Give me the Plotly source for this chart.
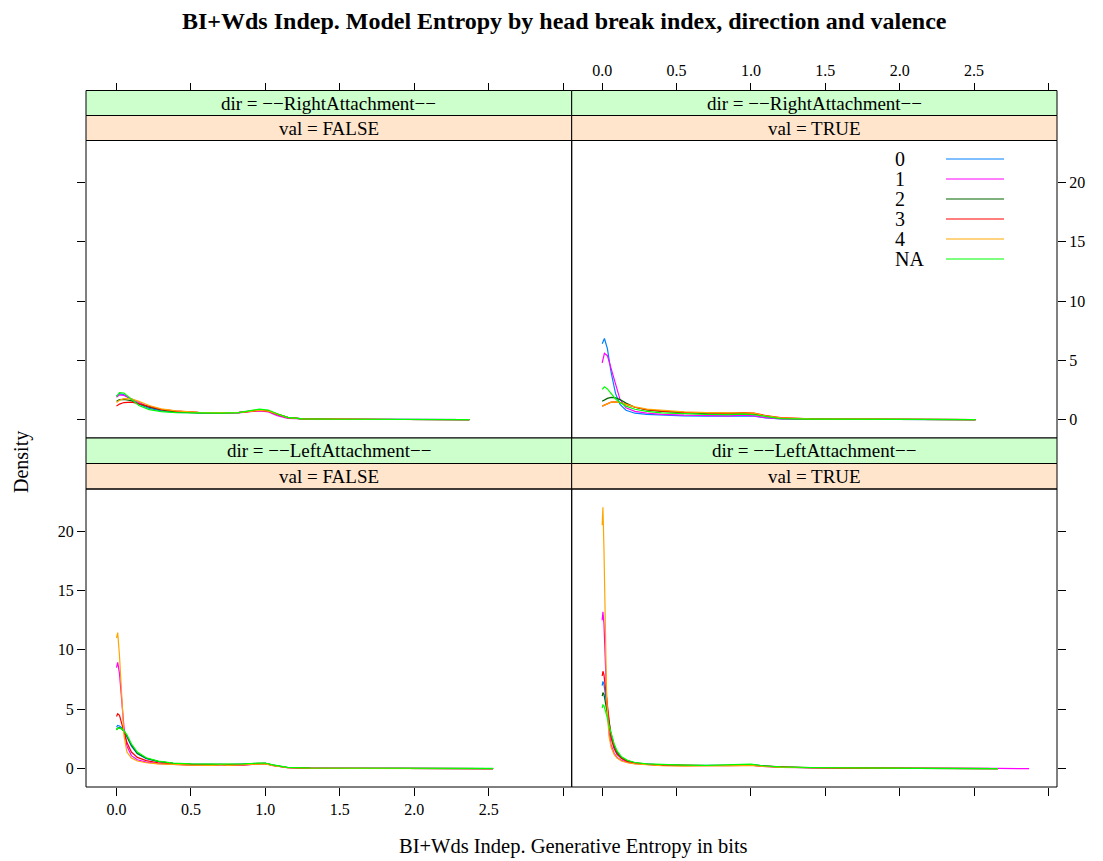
import plotly.graph_objects as go

W, H = 1103, 861

GROUPS = ["0", "1", "2", "3", "4", "NA"]
COLORS = ["#0080ff", "#ff00ff", "#006400", "#ff0000", "#ffa500", "#00ff00"]

DIR_LABELS = ["dir = \u2212\u2212RightAttachment\u2212\u2212", "dir = \u2212\u2212LeftAttachment\u2212\u2212"]
VAL_LABELS = ["val = FALSE", "val = TRUE"]

X_TICKS = [0.0, 0.5, 1.0, 1.5, 2.0, 2.5, 3.0]
X_TICKTEXT = ["0.0", "0.5", "1.0", "1.5", "2.0", "2.5", ""]
Y_TICKS = [0, 5, 10, 15, 20]
Y_TICKTEXT = ["0", "5", "10", "15", "20"]

# ---- top-left: dir = RightAttachment, val = FALSE ----
TL_X = [0.0, 0.02, 0.05, 0.1, 0.15, 0.22, 0.3, 0.4, 0.55, 0.7, 0.82, 0.9, 0.96, 1.02, 1.08, 1.15, 1.25, 1.5, 1.9, 2.37]
TL_G0 = [2.0, 2.2, 2.1, 1.7, 1.3, 0.95, 0.75, 0.62, 0.56, 0.55, 0.6, 0.72, 0.82, 0.75, 0.45, 0.2, 0.08, 0.04, 0.02, 0.01]
TL_G1 = [1.9, 2.1, 2.05, 1.75, 1.4, 1.05, 0.85, 0.72, 0.6, 0.56, 0.58, 0.68, 0.75, 0.65, 0.35, 0.12, 0.06, 0.04, 0.02, 0.01]
TL_G2 = [1.55, 1.7, 1.72, 1.6, 1.35, 1.05, 0.82, 0.66, 0.58, 0.56, 0.6, 0.72, 0.82, 0.75, 0.45, 0.18, 0.07, 0.04, 0.02, 0.01]
TL_G3 = [1.15, 1.32, 1.45, 1.48, 1.35, 1.1, 0.88, 0.72, 0.62, 0.6, 0.62, 0.7, 0.78, 0.72, 0.48, 0.2, 0.08, 0.04, 0.02, 0.01]
TL_G4 = [1.45, 1.65, 1.78, 1.75, 1.55, 1.2, 0.92, 0.74, 0.62, 0.58, 0.6, 0.7, 0.8, 0.72, 0.45, 0.18, 0.07, 0.04, 0.02, 0.01]
TL_GNA = [1.95, 2.28, 2.25, 1.75, 1.2, 0.85, 0.68, 0.6, 0.56, 0.55, 0.6, 0.75, 0.9, 0.82, 0.5, 0.2, 0.08, 0.04, 0.02, 0.01]

# ---- top-right: dir = RightAttachment, val = TRUE ----
TR_X = [0.0, 0.015, 0.035, 0.06, 0.09, 0.12, 0.16, 0.22, 0.3, 0.4, 0.55, 0.7, 0.85, 0.95, 1.02, 1.1, 1.2, 1.4, 1.8, 2.2, 2.51]
TR_G0 = [6.4, 6.85, 6.0, 4.0, 2.2, 1.3, 0.8, 0.55, 0.45, 0.38, 0.33, 0.3, 0.3, 0.35, 0.3, 0.15, 0.07, 0.04, 0.02, 0.01, 0.01]
TR_G1 = [4.8, 5.6, 5.4, 4.3, 2.8, 1.7, 1.0, 0.7, 0.55, 0.45, 0.38, 0.33, 0.33, 0.38, 0.32, 0.17, 0.08, 0.04, 0.02, 0.01, 0.01]
TR_G2 = [1.55, 1.68, 1.8, 1.88, 1.85, 1.7, 1.4, 1.05, 0.82, 0.7, 0.58, 0.52, 0.5, 0.55, 0.48, 0.3, 0.12, 0.06, 0.03, 0.01, 0.01]
TR_G3 = [1.15, 1.25, 1.38, 1.48, 1.5, 1.45, 1.3, 1.05, 0.85, 0.72, 0.62, 0.56, 0.55, 0.6, 0.55, 0.35, 0.18, 0.08, 0.04, 0.02, 0.01]
TR_G4 = [1.15, 1.25, 1.38, 1.48, 1.5, 1.45, 1.3, 1.08, 0.9, 0.78, 0.66, 0.6, 0.58, 0.62, 0.55, 0.32, 0.15, 0.07, 0.03, 0.01, 0.01]
TR_GNA = [2.55, 2.78, 2.6, 2.2, 1.75, 1.45, 1.15, 0.88, 0.7, 0.58, 0.5, 0.45, 0.43, 0.48, 0.42, 0.25, 0.1, 0.05, 0.02, 0.01, 0.01]

# ---- bottom-left: dir = LeftAttachment, val = FALSE ----
BL_X = [0.0, 0.008, 0.02, 0.035, 0.05, 0.07, 0.1, 0.14, 0.2, 0.28, 0.38, 0.5, 0.65, 0.7, 0.75, 0.85, 0.95, 1.0, 1.05, 1.15, 1.3, 1.6, 2.0, 2.53]
BL_G0 = [3.5, 3.64, 3.6, 3.45, 3.2, 2.7, 1.9, 1.25, 0.85, 0.6, 0.45, 0.38, 0.35, 0.35, 0.35, 0.38, 0.45, 0.45, 0.3, 0.1, 0.05, 0.03, 0.02, 0.01]
BL_G1 = [8.5, 8.95, 8.0, 5.8, 3.5, 1.9, 1.1, 0.75, 0.55, 0.42, 0.35, 0.3, 0.28, 0.36, 0.28, 0.3, 0.4, 0.45, 0.28, 0.08, 0.04, 0.03, 0.02, 0.01]
BL_G2 = [3.3, 3.42, 3.45, 3.35, 3.15, 2.75, 2.0, 1.3, 0.88, 0.62, 0.46, 0.38, 0.36, 0.36, 0.36, 0.38, 0.45, 0.46, 0.3, 0.1, 0.05, 0.03, 0.02, 0.01]
BL_G3 = [4.4, 4.62, 4.5, 3.9, 3.1, 2.2, 1.4, 0.95, 0.68, 0.5, 0.38, 0.32, 0.3, 0.3, 0.3, 0.32, 0.4, 0.42, 0.28, 0.08, 0.04, 0.03, 0.02, 0.01]
BL_G4 = [11.0, 11.45, 9.5, 5.5, 2.8, 1.4, 0.9, 0.65, 0.5, 0.4, 0.33, 0.3, 0.28, 0.35, 0.28, 0.3, 0.38, 0.4, 0.25, 0.08, 0.04, 0.03, 0.02, 0.01]
BL_GNA = [3.25, 3.4, 3.42, 3.35, 3.2, 2.85, 2.1, 1.4, 0.92, 0.64, 0.47, 0.4, 0.38, 0.38, 0.37, 0.4, 0.47, 0.48, 0.32, 0.12, 0.06, 0.04, 0.03, 0.02]

# ---- bottom-right: dir = LeftAttachment, val = TRUE ----
BR_X = [0.0, 0.005, 0.012, 0.02, 0.03, 0.045, 0.06, 0.08, 0.1, 0.13, 0.17, 0.22, 0.3, 0.4, 0.55, 0.7, 0.85, 0.95, 1.0, 1.08, 1.2, 1.4, 1.7, 2.1, 2.66, 2.87]
BR_G0 = [7.0, 7.35, 7.1, 6.4, 5.2, 3.8, 2.7, 1.8, 1.25, 0.88, 0.62, 0.47, 0.37, 0.3, 0.27, 0.26, 0.26, 0.3, 0.32, 0.22, 0.13, 0.08, 0.05, 0.03, 0.01, None]
BR_G1 = [12.5, 13.2, 12.2, 9.5, 6.0, 3.2, 2.0, 1.3, 0.95, 0.7, 0.52, 0.42, 0.34, 0.28, 0.25, 0.25, 0.25, 0.28, 0.3, 0.2, 0.12, 0.08, 0.05, 0.03, 0.02, 0.01]
BR_G2 = [6.1, 6.4, 6.25, 5.8, 5.0, 3.9, 2.9, 2.0, 1.4, 0.95, 0.66, 0.5, 0.38, 0.32, 0.28, 0.27, 0.28, 0.32, 0.35, 0.24, 0.14, 0.09, 0.05, 0.03, 0.01, None]
BR_G3 = [7.8, 8.2, 7.9, 7.0, 5.5, 3.8, 2.6, 1.7, 1.2, 0.85, 0.6, 0.46, 0.36, 0.3, 0.27, 0.25, 0.25, 0.28, 0.3, 0.22, 0.15, 0.08, 0.05, 0.03, 0.01, None]
BR_G4 = [20.5, 22.0, 18.5, 12.0, 6.0, 2.8, 1.8, 1.2, 0.9, 0.65, 0.5, 0.4, 0.32, 0.25, 0.22, 0.25, 0.22, 0.25, 0.28, 0.2, 0.12, 0.08, 0.05, 0.03, 0.01, None]
BR_GNA = [5.1, 5.38, 5.3, 5.0, 4.5, 3.7, 2.9, 2.1, 1.5, 1.0, 0.7, 0.52, 0.4, 0.34, 0.3, 0.28, 0.3, 0.35, 0.38, 0.25, 0.15, 0.1, 0.06, 0.03, 0.01, None]

X_RANGE = [-0.205, 3.058]
Y_RANGE = [-1.54, 23.54]

FONT = "Liberation Serif"

# ---------------- geometry (pixels) ----------------
LEFT, MID, RIGHT = 86.0, 571.7, 1057.0
ROWS = [
    dict(s1=90.5, s2=115.5, top=140.5, bot=438.0),   # top row
    dict(s1=438.0, s2=463.5, top=489.0, bot=787.0),  # bottom row
]


def fx(p):
    return p / W


def fy(p):
    return 1.0 - p / H


panels = [
    ("x5", "y", TL_X, [TL_G0, TL_G1, TL_G2, TL_G3, TL_G4, TL_GNA], 0, 0),
    ("x6", "y2", TR_X, [TR_G0, TR_G1, TR_G2, TR_G3, TR_G4, TR_GNA], 0, 1),
    ("x3", "y3", BL_X, [BL_G0, BL_G1, BL_G2, BL_G3, BL_G4, BL_GNA], 1, 0),
    ("x4", "y4", BR_X, [BR_G0, BR_G1, BR_G2, BR_G3, BR_G4, BR_GNA], 1, 1),
]

fig = go.Figure()
for xa, ya, xs, series, r, c in panels:
    for g, col, ys in zip(GROUPS, COLORS, series):
        fig.add_trace(go.Scatter(
            x=xs, y=ys, xaxis=xa, yaxis=ya, mode="lines",
            line=dict(color=col, width=1.2), name=g,
            showlegend=False, hoverinfo="skip", connectgaps=False,
        ))

tickfont = dict(family=FONT, size=16, color="black")
common_x = dict(range=X_RANGE, tickmode="array", tickvals=X_TICKS, ticktext=X_TICKTEXT,
                ticks="outside", ticklen=8, tickwidth=1, tickcolor="black",
                showgrid=False, zeroline=False, showline=False, tickfont=tickfont,
                fixedrange=True)
common_y = dict(range=Y_RANGE, tickmode="array", tickvals=Y_TICKS, ticktext=Y_TICKTEXT,
                ticks="outside", ticklen=8, tickwidth=1, tickcolor="black",
                showgrid=False, zeroline=False, showline=False, tickfont=tickfont,
                fixedrange=True)

dom_left = [fx(LEFT), fx(MID)]
dom_right = [fx(MID), fx(RIGHT)]
dom_top = [fy(ROWS[0]["bot"]), fy(ROWS[0]["top"])]
dom_bot = [fy(ROWS[1]["bot"]), fy(ROWS[1]["top"])]

fig.update_layout(
    xaxis5=dict(common_x, domain=dom_left, anchor="free", position=fy(ROWS[0]["s1"]), side="top",
                showticklabels=False),
    xaxis6=dict(common_x, domain=dom_right, anchor="free", position=fy(ROWS[0]["s1"]), side="top",
                showticklabels=True),
    xaxis3=dict(common_x, domain=dom_left, anchor="y3", side="bottom", showticklabels=True),
    xaxis4=dict(common_x, domain=dom_right, anchor="y4", side="bottom", showticklabels=False),
    yaxis=dict(common_y, domain=dom_top, anchor="x5", side="left", showticklabels=False),
    yaxis2=dict(common_y, domain=dom_top, anchor="x6", side="right", showticklabels=True),
    yaxis3=dict(common_y, domain=dom_bot, anchor="x3", side="left", showticklabels=True),
    yaxis4=dict(common_y, domain=dom_bot, anchor="x4", side="right", showticklabels=False),
)

shapes = []
annotations = []
for r, row in enumerate(ROWS):
    for c in range(2):
        x0 = LEFT if c == 0 else MID
        x1 = MID if c == 0 else RIGHT
        shapes.append(dict(type="rect", xref="paper", yref="paper",
                           x0=fx(x0), x1=fx(x1), y0=fy(row["s2"]), y1=fy(row["s1"]),
                           fillcolor="#ccffcc", line=dict(color="black", width=1), layer="above"))
        shapes.append(dict(type="rect", xref="paper", yref="paper",
                           x0=fx(x0), x1=fx(x1), y0=fy(row["top"]), y1=fy(row["s2"]),
                           fillcolor="#ffe5cc", line=dict(color="black", width=1), layer="above"))
        shapes.append(dict(type="rect", xref="paper", yref="paper",
                           x0=fx(x0), x1=fx(x1), y0=fy(row["bot"]), y1=fy(row["top"]),
                           fillcolor="rgba(0,0,0,0)", line=dict(color="black", width=1), layer="above"))
        xc = fx((x0 + x1) / 2)
        annotations.append(dict(xref="paper", yref="paper", x=xc, y=fy((row["s1"] + row["s2"]) / 2),
                                text=DIR_LABELS[r], showarrow=False, xanchor="center", yanchor="middle",
                                font=dict(family=FONT, size=19, color="black")))
        annotations.append(dict(xref="paper", yref="paper", x=xc, y=fy((row["s2"] + row["top"]) / 2),
                                text=VAL_LABELS[c], showarrow=False, xanchor="center", yanchor="middle",
                                font=dict(family=FONT, size=19, color="black")))

# key inside top-right panel
LEG_TEXT_X, LEG_LINE_X0, LEG_LINE_X1 = 893, 946, 1004
LEG_Y0, LEG_DY = 159, 20
for i, (g, col) in enumerate(zip(GROUPS, COLORS)):
    yy = LEG_Y0 + i * LEG_DY
    annotations.append(dict(xref="paper", yref="paper", x=fx(LEG_TEXT_X), y=fy(yy), text=g,
                            showarrow=False, xanchor="left", yanchor="middle",
                            font=dict(family=FONT, size=20, color="black")))
    shapes.append(dict(type="line", xref="paper", yref="paper",
                       x0=fx(LEG_LINE_X0), x1=fx(LEG_LINE_X1), y0=fy(yy), y1=fy(yy),
                       line=dict(color=col, width=1.2)))

annotations.append(dict(xref="paper", yref="paper", x=fx(564), y=fy(21),
                        text="<b>BI+Wds Indep. Model Entropy by head break index, direction and valence</b>",
                        showarrow=False, xanchor="center", yanchor="middle",
                        font=dict(family=FONT, size=24, color="black")))
annotations.append(dict(xref="paper", yref="paper", x=fx(573), y=fy(846),
                        text="BI+Wds Indep. Generative Entropy in bits",
                        showarrow=False, xanchor="center", yanchor="middle",
                        font=dict(family=FONT, size=20.5, color="black")))
annotations.append(dict(xref="paper", yref="paper", x=fx(21), y=fy(462),
                        text="Density", textangle=-90,
                        showarrow=False, xanchor="center", yanchor="middle",
                        font=dict(family=FONT, size=20, color="black")))

fig.update_layout(
    width=W, height=H,
    margin=dict(l=0, r=0, t=0, b=0),
    paper_bgcolor="white", plot_bgcolor="white",
    shapes=shapes, annotations=annotations,
    showlegend=False,
    font=dict(family=FONT, color="black"),
)

fig.write_html("out.html", config={"displayModeBar": False},
               post_script="document.body.style.margin='0px';document.body.style.overflow='hidden';")
